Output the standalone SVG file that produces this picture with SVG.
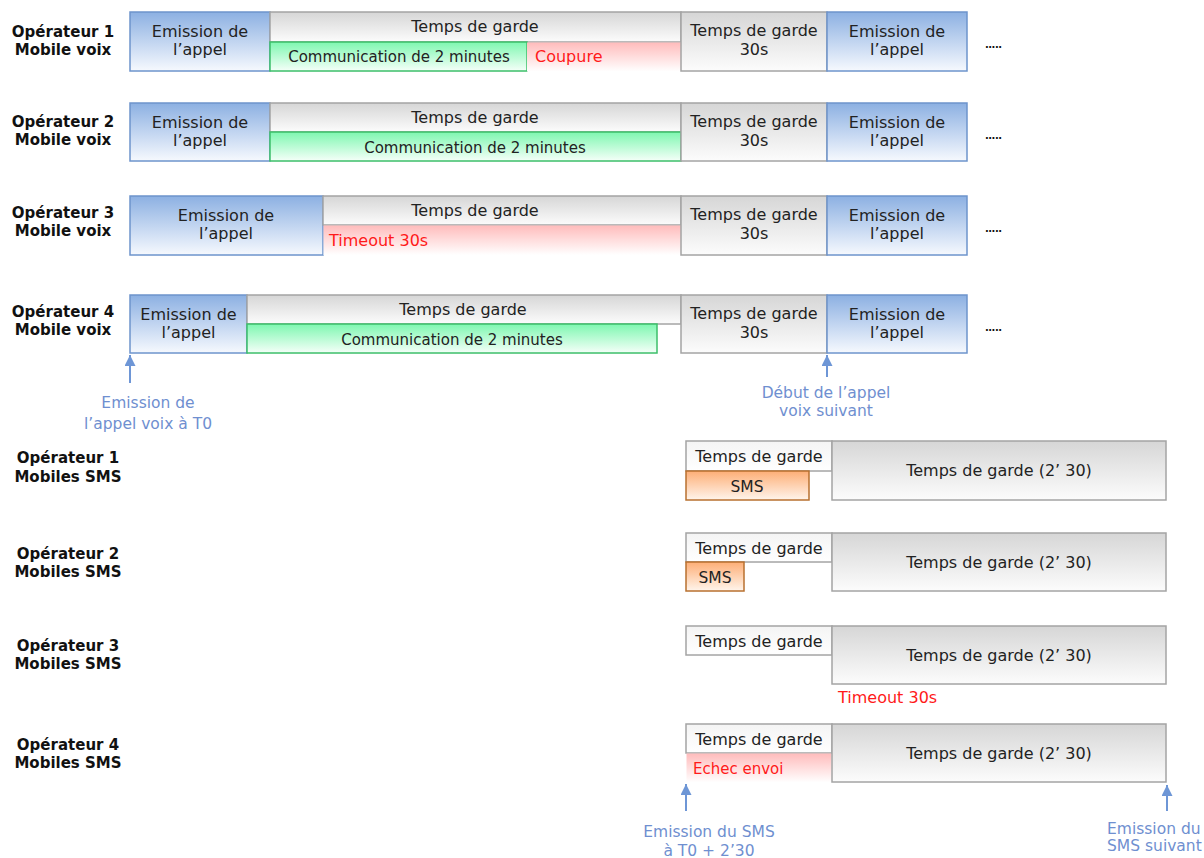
<svg xmlns="http://www.w3.org/2000/svg" width="1204" height="858" viewBox="0 0 1204 858">
<defs>
<linearGradient id="gBlue" x1="0" y1="0" x2="0" y2="1"><stop offset="0" stop-color="#8cb0e2"/><stop offset="1" stop-color="#f6f9fe"/></linearGradient>
<linearGradient id="gGray" x1="0" y1="0" x2="0" y2="1"><stop offset="0" stop-color="#d6d6d6"/><stop offset="1" stop-color="#fcfcfc"/></linearGradient>
<linearGradient id="gGreen" x1="0" y1="0" x2="0" y2="1"><stop offset="0" stop-color="#7ef7b0"/><stop offset="1" stop-color="#f5fff9"/></linearGradient>
<linearGradient id="gPink" x1="0" y1="0" x2="0" y2="1"><stop offset="0" stop-color="#ffbcbc"/><stop offset="1" stop-color="#ffffff"/></linearGradient>
<linearGradient id="gOrange" x1="0" y1="0" x2="0" y2="1"><stop offset="0" stop-color="#fdae76"/><stop offset="1" stop-color="#fff5ec"/></linearGradient>
<linearGradient id="gWhite" x1="0" y1="0" x2="0" y2="1"><stop offset="0" stop-color="#f4f4f4"/><stop offset="1" stop-color="#ffffff"/></linearGradient>
<marker id="ah" markerWidth="12" markerHeight="11" refX="11" refY="5.5" orient="auto" markerUnits="userSpaceOnUse"><path d="M0,0 L11,5.5 L0,11 Z" fill="#6e96d6"/></marker>
</defs>
<style>
text{font-family:"DejaVu Sans","Noto Sans",sans-serif;fill:#222;}
.lbl{font-size:15px;font-weight:bold;text-anchor:middle;fill:#111;}
.c{text-anchor:middle;font-size:16px;}
.red{fill:#ff1a1a;font-size:16px;}
.blue{fill:#6f8fd0;font-size:15.5px;text-anchor:middle;}
.em{fill:url(#gBlue);stroke:#6d94cc;stroke-width:1.5;}
.gr{fill:url(#gGray);stroke:#a4a4a4;stroke-width:1.5;}
.wh{fill:url(#gWhite);stroke:#a4a4a4;stroke-width:1.5;}
.gn{fill:url(#gGreen);stroke:#3cbf6a;stroke-width:1.5;}
.pk{fill:url(#gPink);}
.or{fill:url(#gOrange);stroke:#b8702f;stroke-width:1.5;}
.sms{text-anchor:middle;font-size:15.5px;}
.dots{font-size:10px;font-weight:bold;fill:#111;letter-spacing:-0.5px;}
.arr{stroke:#6e96d6;stroke-width:2;fill:none;marker-end:url(#ah);}
</style>

<!-- Voice row labels -->
<g id="lbl-v1"><text class="lbl" x="63" y="37">Opérateur 1</text><text class="lbl" x="63" y="55">Mobile voix</text></g>
<g id="lbl-v2"><text class="lbl" x="63" y="127">Opérateur 2</text><text class="lbl" x="63" y="145">Mobile voix</text></g>
<g id="lbl-v3"><text class="lbl" x="63" y="218">Opérateur 3</text><text class="lbl" x="63" y="236">Mobile voix</text></g>
<g id="lbl-v4"><text class="lbl" x="63" y="317">Opérateur 4</text><text class="lbl" x="63" y="335">Mobile voix</text></g>

<!-- Row 1 voice -->
<g id="v1-emission"><rect class="em" x="130" y="12" width="140" height="59"/><text class="c" x="200" y="37">Emission de</text><text class="c" x="200" y="55">l’appel</text></g>
<g id="v1-garde"><rect class="gr" x="270" y="12" width="411" height="30"/><text class="c" x="475" y="32">Temps de garde</text></g>
<g id="v1-comm"><rect class="gn" x="270" y="42" width="257" height="29"/><text class="c" x="399" y="62" style="font-size:15px">Communication de 2 minutes</text></g>
<g id="v1-coupure"><rect class="pk" x="527" y="42.5" width="154" height="29"/><text class="red" x="535" y="62">Coupure</text></g>
<g id="v1-garde30"><rect class="gr" x="681" y="12" width="146" height="59"/><text class="c" x="754" y="36">Temps de garde</text><text class="c" x="754" y="55">30s</text></g>
<g id="v1-emission2"><rect class="em" x="827" y="12" width="140" height="59"/><text class="c" x="897" y="37">Emission de</text><text class="c" x="897" y="55">l’appel</text></g>
<text class="dots" x="985" y="48">.....</text>

<!-- Row 2 voice -->
<g id="v2-emission"><rect class="em" x="130" y="103" width="140" height="58"/><text class="c" x="200" y="128">Emission de</text><text class="c" x="200" y="146">l’appel</text></g>
<g id="v2-garde"><rect class="gr" x="270" y="103" width="411" height="29"/><text class="c" x="475" y="123">Temps de garde</text></g>
<g id="v2-comm"><rect class="gn" x="270" y="132" width="411" height="29"/><text class="c" x="475" y="153" style="font-size:15px">Communication de 2 minutes</text></g>
<g id="v2-garde30"><rect class="gr" x="681" y="103" width="146" height="58"/><text class="c" x="754" y="127">Temps de garde</text><text class="c" x="754" y="146">30s</text></g>
<g id="v2-emission2"><rect class="em" x="827" y="103" width="140" height="58"/><text class="c" x="897" y="128">Emission de</text><text class="c" x="897" y="146">l’appel</text></g>
<text class="dots" x="985" y="139">.....</text>

<!-- Row 3 voice -->
<g id="v3-emission"><rect class="em" x="130" y="196" width="193" height="59"/><text class="c" x="226" y="221">Emission de</text><text class="c" x="226" y="239">l’appel</text></g>
<g id="v3-garde"><rect class="gr" x="323" y="196" width="358" height="29"/><text class="c" x="475" y="216">Temps de garde</text></g>
<g id="v3-timeout"><rect class="pk" x="323.5" y="225.5" width="357.5" height="29.5"/><text class="red" x="329" y="246">Timeout 30s</text></g>
<g id="v3-garde30"><rect class="gr" x="681" y="196" width="146" height="59"/><text class="c" x="754" y="220">Temps de garde</text><text class="c" x="754" y="239">30s</text></g>
<g id="v3-emission2"><rect class="em" x="827" y="196" width="140" height="59"/><text class="c" x="897" y="221">Emission de</text><text class="c" x="897" y="239">l’appel</text></g>
<text class="dots" x="985" y="232">.....</text>

<!-- Row 4 voice -->
<g id="v4-emission"><rect class="em" x="130" y="295" width="117" height="58"/><text class="c" x="188.5" y="320">Emission de</text><text class="c" x="188.5" y="338">l’appel</text></g>
<g id="v4-garde"><rect class="gr" x="247" y="295" width="434" height="29"/><text class="c" x="463" y="315">Temps de garde</text></g>
<g id="v4-comm"><rect class="gn" x="247" y="324" width="410" height="29"/><text class="c" x="452" y="345" style="font-size:15px">Communication de 2 minutes</text></g>
<g id="v4-garde30"><rect class="gr" x="681" y="295" width="146" height="58"/><text class="c" x="754" y="319">Temps de garde</text><text class="c" x="754" y="338">30s</text></g>
<g id="v4-emission2"><rect class="em" x="827" y="295" width="140" height="58"/><text class="c" x="897" y="320">Emission de</text><text class="c" x="897" y="338">l’appel</text></g>
<text class="dots" x="985" y="331">.....</text>

<!-- SMS row labels -->
<g id="lbl-s1"><text class="lbl" x="68" y="463">Opérateur 1</text><text class="lbl" x="68" y="482">Mobiles SMS</text></g>
<g id="lbl-s2"><text class="lbl" x="68" y="559">Opérateur 2</text><text class="lbl" x="68" y="577">Mobiles SMS</text></g>
<g id="lbl-s3"><text class="lbl" x="68" y="651">Opérateur 3</text><text class="lbl" x="68" y="669">Mobiles SMS</text></g>
<g id="lbl-s4"><text class="lbl" x="68" y="750">Opérateur 4</text><text class="lbl" x="68" y="768">Mobiles SMS</text></g>

<!-- SMS row 1 -->
<g id="s1-garde"><rect class="wh" x="686" y="441" width="146" height="30"/><text class="c" x="759" y="462">Temps de garde</text></g>
<g id="s1-sms"><rect class="or" x="686" y="471" width="123" height="29"/><text class="sms" x="747" y="492">SMS</text></g>
<g id="s1-garde2"><rect class="gr" x="832" y="441" width="334" height="59"/><text class="c" x="999" y="476">Temps de garde (2’ 30)</text></g>

<!-- SMS row 2 -->
<g id="s2-garde"><rect class="wh" x="686" y="533" width="146" height="29"/><text class="c" x="759" y="554">Temps de garde</text></g>
<g id="s2-sms"><rect class="or" x="686" y="562" width="58" height="29"/><text class="sms" x="715" y="583">SMS</text></g>
<g id="s2-garde2"><rect class="gr" x="832" y="533" width="334" height="58"/><text class="c" x="999" y="568">Temps de garde (2’ 30)</text></g>

<!-- SMS row 3 -->
<g id="s3-garde"><rect class="wh" x="686" y="626" width="146" height="29"/><text class="c" x="759" y="647">Temps de garde</text></g>
<g id="s3-garde2"><rect class="gr" x="832" y="626" width="334" height="58"/><text class="c" x="999" y="661">Temps de garde (2’ 30)</text></g>
<text class="red" x="838" y="703">Timeout 30s</text>

<!-- SMS row 4 -->
<g id="s4-garde"><rect class="wh" x="686" y="724" width="146" height="29"/><text class="c" x="759" y="745">Temps de garde</text></g>
<g id="s4-echec"><rect class="pk" x="686.5" y="753.5" width="145" height="29"/><text class="red" x="693" y="774" style="font-size:15px">Echec envoi</text></g>
<g id="s4-garde2"><rect class="gr" x="832" y="724" width="334" height="58"/><text class="c" x="999" y="759">Temps de garde (2’ 30)</text></g>

<!-- Connectors / markers -->
<g id="connectors">
<line class="arr" x1="130" y1="383" x2="130" y2="355"/>
<line class="arr" x1="827" y1="377" x2="827" y2="355"/>
<line class="arr" x1="686" y1="811" x2="686" y2="784"/>
<line class="arr" x1="1167" y1="811" x2="1167" y2="785"/>
</g>

<g id="annot-t0"><text class="blue" x="148" y="408">Emission de</text><text class="blue" x="148" y="429">l’appel voix à T0</text></g>
<g id="annot-next-voice"><text class="blue" x="826" y="398">Début de l’appel</text><text class="blue" x="826" y="416">voix suivant</text></g>
<g id="annot-sms"><text class="blue" x="709" y="837">Emission du SMS</text><text class="blue" x="709" y="856">à T0 + 2’30</text></g>
<g id="annot-next-sms"><text class="blue" x="1107" y="834" style="text-anchor:start">Emission du</text><text class="blue" x="1107" y="851" style="text-anchor:start">SMS suivant</text></g>
</svg>
